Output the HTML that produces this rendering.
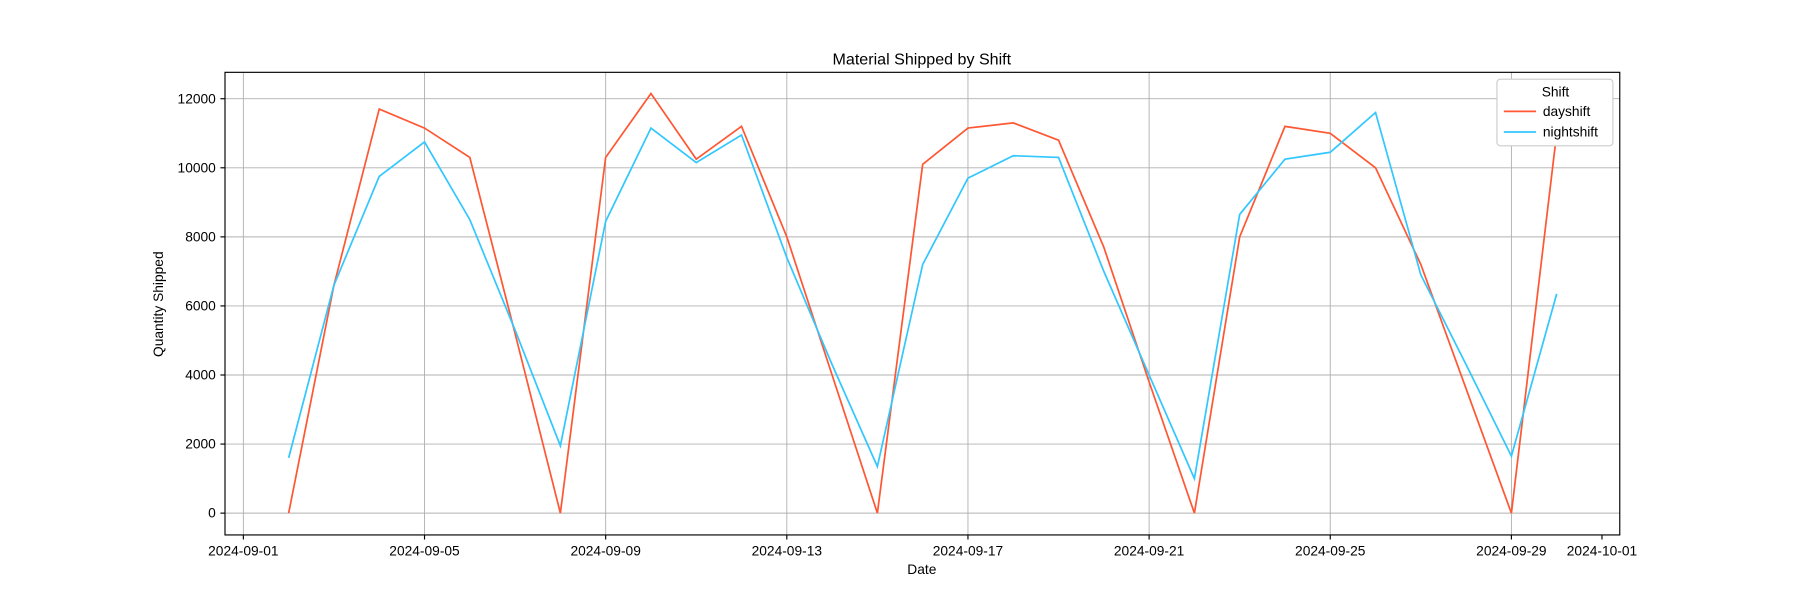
<!DOCTYPE html>
<html><head><meta charset="utf-8">
<style>
body{margin:0;background:#fff;}
svg{display:block;font-family:"Liberation Sans","DejaVu Sans",sans-serif;}
</style></head>
<body>
<svg id="chart" width="1800" height="600" viewBox="0 0 1568 522.67" preserveAspectRatio="none" xmlns="http://www.w3.org/2000/svg">
<rect width="1568" height="523" fill="#fff"/>
<g id="grid"></g>
<g id="series"></g>
<g id="axes"></g>
<text x="803" y="56" font-size="14" text-anchor="middle">Material Shipped by Shift</text>
<text x="803" y="500" font-size="12" text-anchor="middle">Date</text>
<text transform="translate(142,265) rotate(-90)" font-size="12" text-anchor="middle">Quantity Shipped</text>
<g>
<rect x="1304" y="69" width="101" height="58" fill="#fff" stroke="#ccc" rx="3"/>
<text x="1355" y="84" font-size="12" text-anchor="middle">Shift</text>
<line x1="1310" y1="97" x2="1338" y2="97" stroke="#ff5733" stroke-width="1.5"/>
<text x="1344" y="101" font-size="12">dayshift</text>
<line x1="1310" y1="115" x2="1338" y2="115" stroke="#33c7ff" stroke-width="1.5"/>
<text x="1344" y="119" font-size="12">nightshift</text>
</g>
</svg>
<script>
const dayNums = [2,3,4,5,6,7,8,9,10,11,12,13,14,15,16,17,18,19,20,21,22,23,24,25,26,27,28,29,30];
const dayshift = [0,6600,11700,11150,10300,5200,0,10300,12150,10250,11200,8000,4000,0,10100,11150,11300,10800,7700,3800,0,8000,11200,11000,10000,7200,3600,0,11000];
const nightshift = [1600,6600,9750,10750,8500,5300,1950,8450,11150,10150,10950,7400,4300,1350,7200,9700,10350,10300,7000,4000,1000,8650,10250,10450,11600,6900,4300,1650,6350];
const xTickDays = [1,5,9,13,17,21,25,29,31];
const xTickLabels = ["2024-09-01","2024-09-05","2024-09-09","2024-09-13","2024-09-17","2024-09-21","2024-09-25","2024-09-29","2024-10-01"];
const yTicks = [0,2000,4000,6000,8000,10000,12000];

const L=196,R=1411,T=63,B=466;
const x = d => 212 + (d-1)*39.45;
const y = v => 447 - v*(361/12000);
const NS="http://www.w3.org/2000/svg";
function mk(tag, attrs, parent){const e=document.createElementNS(NS,tag);for(const k in attrs)e.setAttribute(k,attrs[k]);parent.appendChild(e);return e;}
const grid=document.getElementById('grid'), axes=document.getElementById('axes'), series=document.getElementById('series');
xTickDays.forEach((d,i)=>{
  if(d<=30) mk('line',{x1:x(d),x2:x(d),y1:T,y2:B,stroke:'#b0b0b0','stroke-width':0.8},grid);
  mk('line',{x1:x(d),x2:x(d),y1:B,y2:B+4,stroke:'#000'},axes);
  const t=mk('text',{x:x(d),y:B+18,'font-size':12,'text-anchor':'middle'},axes);
  
  
  t.textContent=xTickLabels[i];
});
yTicks.forEach(v=>{
  mk('line',{x1:L,x2:R,y1:y(v),y2:y(v),stroke:'#b0b0b0','stroke-width':0.8},grid);
  mk('line',{x1:L-4,x2:L,y1:y(v),y2:y(v),stroke:'#000'},axes);
  const t=mk('text',{x:L-8,y:y(v)+4,'font-size':12,'text-anchor':'end'},axes);
  
  
  t.textContent=v;
});
mk('rect',{x:L,y:T,width:R-L,height:B-T,fill:'none',stroke:'#000','stroke-width':1},axes);
function line(vals,color,name){
  const p=mk('polyline',{points:vals.map((v,i)=>x(dayNums[i])+','+y(v)).join(' '),fill:'none',stroke:color,'stroke-width':1.5},series);
  
  
}
line(dayshift,'#ff5733','dayshift-line');
line(nightshift,'#33c7ff','nightshift-line');
</script>
</body></html>
